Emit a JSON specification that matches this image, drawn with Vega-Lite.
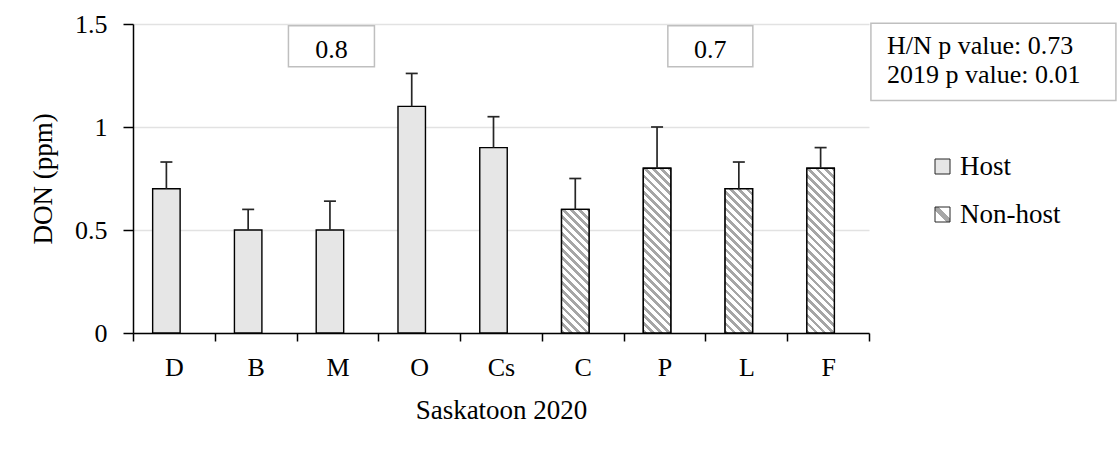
{
  "$schema": "https://vega.github.io/schema/vega-lite/v6.json",
  "width": 736,
  "height": 309,
  "autosize": {"type": "none"},
  "padding": {"left": 133, "top": 24, "right": 248, "bottom": 117},
  "background": "white",
  "params": [
    {"name": "legendHatch", "value": {"gradient": "linear", "x1": 0, "y1": 1, "x2": 1, "y2": 0, "stops": [{"offset": 0, "color": "#ffffff"}, {"offset": 0.38, "color": "#ffffff"}, {"offset": 0.38, "color": "#a6a6a6"}, {"offset": 0.62, "color": "#a6a6a6"}, {"offset": 0.62, "color": "#ffffff"}, {"offset": 1, "color": "#ffffff"}]}},
    {"name": "hatchStops", "value": [
      {"offset": 0, "color": "#a6a6a6"}, {"offset": 0.018, "color": "#a6a6a6"}, {"offset": 0.018, "color": "#ffffff"}, {"offset": 0.04, "color": "#ffffff"},
      {"offset": 0.04, "color": "#a6a6a6"}, {"offset": 0.058, "color": "#a6a6a6"}, {"offset": 0.058, "color": "#ffffff"}, {"offset": 0.08, "color": "#ffffff"},
      {"offset": 0.08, "color": "#a6a6a6"}, {"offset": 0.098, "color": "#a6a6a6"}, {"offset": 0.098, "color": "#ffffff"}, {"offset": 0.12, "color": "#ffffff"},
      {"offset": 0.12, "color": "#a6a6a6"}, {"offset": 0.138, "color": "#a6a6a6"}, {"offset": 0.138, "color": "#ffffff"}, {"offset": 0.16, "color": "#ffffff"},
      {"offset": 0.16, "color": "#a6a6a6"}, {"offset": 0.178, "color": "#a6a6a6"}, {"offset": 0.178, "color": "#ffffff"}, {"offset": 0.2, "color": "#ffffff"},
      {"offset": 0.2, "color": "#a6a6a6"}, {"offset": 0.218, "color": "#a6a6a6"}, {"offset": 0.218, "color": "#ffffff"}, {"offset": 0.24, "color": "#ffffff"},
      {"offset": 0.24, "color": "#a6a6a6"}, {"offset": 0.258, "color": "#a6a6a6"}, {"offset": 0.258, "color": "#ffffff"}, {"offset": 0.28, "color": "#ffffff"},
      {"offset": 0.28, "color": "#a6a6a6"}, {"offset": 0.298, "color": "#a6a6a6"}, {"offset": 0.298, "color": "#ffffff"}, {"offset": 0.32, "color": "#ffffff"},
      {"offset": 0.32, "color": "#a6a6a6"}, {"offset": 0.338, "color": "#a6a6a6"}, {"offset": 0.338, "color": "#ffffff"}, {"offset": 0.36, "color": "#ffffff"},
      {"offset": 0.36, "color": "#a6a6a6"}, {"offset": 0.378, "color": "#a6a6a6"}, {"offset": 0.378, "color": "#ffffff"}, {"offset": 0.4, "color": "#ffffff"},
      {"offset": 0.4, "color": "#a6a6a6"}, {"offset": 0.418, "color": "#a6a6a6"}, {"offset": 0.418, "color": "#ffffff"}, {"offset": 0.44, "color": "#ffffff"},
      {"offset": 0.44, "color": "#a6a6a6"}, {"offset": 0.458, "color": "#a6a6a6"}, {"offset": 0.458, "color": "#ffffff"}, {"offset": 0.48, "color": "#ffffff"},
      {"offset": 0.48, "color": "#a6a6a6"}, {"offset": 0.498, "color": "#a6a6a6"}, {"offset": 0.498, "color": "#ffffff"}, {"offset": 0.52, "color": "#ffffff"},
      {"offset": 0.52, "color": "#a6a6a6"}, {"offset": 0.538, "color": "#a6a6a6"}, {"offset": 0.538, "color": "#ffffff"}, {"offset": 0.56, "color": "#ffffff"},
      {"offset": 0.56, "color": "#a6a6a6"}, {"offset": 0.578, "color": "#a6a6a6"}, {"offset": 0.578, "color": "#ffffff"}, {"offset": 0.6, "color": "#ffffff"},
      {"offset": 0.6, "color": "#a6a6a6"}, {"offset": 0.618, "color": "#a6a6a6"}, {"offset": 0.618, "color": "#ffffff"}, {"offset": 0.64, "color": "#ffffff"},
      {"offset": 0.64, "color": "#a6a6a6"}, {"offset": 0.658, "color": "#a6a6a6"}, {"offset": 0.658, "color": "#ffffff"}, {"offset": 0.68, "color": "#ffffff"},
      {"offset": 0.68, "color": "#a6a6a6"}, {"offset": 0.698, "color": "#a6a6a6"}, {"offset": 0.698, "color": "#ffffff"}, {"offset": 0.72, "color": "#ffffff"},
      {"offset": 0.72, "color": "#a6a6a6"}, {"offset": 0.738, "color": "#a6a6a6"}, {"offset": 0.738, "color": "#ffffff"}, {"offset": 0.76, "color": "#ffffff"},
      {"offset": 0.76, "color": "#a6a6a6"}, {"offset": 0.778, "color": "#a6a6a6"}, {"offset": 0.778, "color": "#ffffff"}, {"offset": 0.8, "color": "#ffffff"},
      {"offset": 0.8, "color": "#a6a6a6"}, {"offset": 0.818, "color": "#a6a6a6"}, {"offset": 0.818, "color": "#ffffff"}, {"offset": 0.84, "color": "#ffffff"},
      {"offset": 0.84, "color": "#a6a6a6"}, {"offset": 0.858, "color": "#a6a6a6"}, {"offset": 0.858, "color": "#ffffff"}, {"offset": 0.88, "color": "#ffffff"},
      {"offset": 0.88, "color": "#a6a6a6"}, {"offset": 0.898, "color": "#a6a6a6"}, {"offset": 0.898, "color": "#ffffff"}, {"offset": 0.92, "color": "#ffffff"},
      {"offset": 0.92, "color": "#a6a6a6"}, {"offset": 0.938, "color": "#a6a6a6"}, {"offset": 0.938, "color": "#ffffff"}, {"offset": 0.96, "color": "#ffffff"},
      {"offset": 0.96, "color": "#a6a6a6"}, {"offset": 0.978, "color": "#a6a6a6"}, {"offset": 0.978, "color": "#ffffff"}, {"offset": 1, "color": "#ffffff"}
    ]}
  ],
  "datasets": {
    "bars": [
      {"site": "D", "group": "Host", "DON": 0.7, "upper": 0.83},
      {"site": "B", "group": "Host", "DON": 0.5, "upper": 0.6},
      {"site": "M", "group": "Host", "DON": 0.5, "upper": 0.64},
      {"site": "O", "group": "Host", "DON": 1.1, "upper": 1.26},
      {"site": "Cs", "group": "Host", "DON": 0.9, "upper": 1.05},
      {"site": "C", "group": "Non-host", "DON": 0.6, "upper": 0.75},
      {"site": "P", "group": "Non-host", "DON": 0.8, "upper": 1.0},
      {"site": "L", "group": "Non-host", "DON": 0.7, "upper": 0.83},
      {"site": "F", "group": "Non-host", "DON": 0.8, "upper": 0.9}
    ],
    "notes": [
      {"id": "host", "text": "0.8"},
      {"id": "nonhost", "text": "0.7"},
      {"id": "pvalues", "text": "H/N p value: 0.73\n2019 p value: 0.01"}
    ]
  },
  "config": {
    "font": "Liberation Serif",
    "view": {"stroke": null},
    "axis": {
      "labelFont": "Liberation Serif",
      "labelColor": "#000000",
      "labelFontSize": 26,
      "titleFont": "Liberation Serif",
      "titleColor": "#000000",
      "titleFontSize": 27,
      "titleFontWeight": "normal",
      "domainColor": "#000000",
      "domainWidth": 1.5,
      "tickColor": "#000000",
      "tickWidth": 1.5
    },
    "axisX": {"tickBand": "extent", "tickSize": 8, "labelPadding": 13, "labelAngle": 0, "grid": false, "titlePadding": 17},
    "axisY": {"tickSize": 10, "labelPadding": 16, "grid": true, "gridColor": "#e2e2e2", "gridWidth": 1.5, "titlePadding": 17},
    "legend": {
      "orient": "none",
      "legendX": 796,
      "legendY": 129,
      "padding": 0,
      "symbolType": "square",
      "symbolSize": 225,
      "symbolStrokeColor": "#262626",
      "symbolStrokeWidth": 1,
      "labelFont": "Liberation Serif",
      "labelFontSize": 27,
      "labelColor": "#000000",
      "labelOffset": 4,
      "rowPadding": 20,
      "title": null
    }
  },
  "layer": [
    {
      "data": {"name": "bars"},
      "mark": {"type": "bar", "width": {"band": 0.336}, "xOffset": -7.5, "stroke": "#000000", "strokeWidth": 1.4},
      "encoding": {
        "x": {"field": "site", "type": "nominal", "title": "Saskatoon 2020", "scale": {"domain": ["D", "B", "M", "O", "Cs", "C", "P", "L", "F"], "paddingInner": 0, "paddingOuter": 0}},
        "y": {"field": "DON", "type": "quantitative", "title": "DON (ppm)", "scale": {"domain": [0, 1.5], "nice": false}, "axis": {"values": [0, 0.5, 1, 1.5], "format": "~g"}},
        "fill": {
          "field": "group", "type": "nominal", "title": null,
          "scale": {"domain": ["Host", "Non-host"], "range": ["#e6e6e6", {"expr": "legendHatch"}]}
        }
      }
    },
    {
      "data": {"name": "bars"},
      "transform": [{"filter": "datum.group === 'Non-host'"}],
      "mark": {
        "type": "bar", "width": {"band": 0.336}, "xOffset": -7.5, "stroke": "#000000", "strokeWidth": 1.4,
        "fill": {"expr": "{gradient: 'linear', x1: 0, y1: 1, x2: 205.06*27.48/(755.2+pow(datum.DON*206,2)), y2: 1-205.06*datum.DON*206/(755.2+pow(datum.DON*206,2)), stops: hatchStops}"}
      },
      "encoding": {
        "x": {"field": "site", "type": "nominal", "title": "Saskatoon 2020", "scale": {"domain": ["D", "B", "M", "O", "Cs", "C", "P", "L", "F"], "paddingInner": 0, "paddingOuter": 0}},
        "y": {"field": "DON", "type": "quantitative", "title": "DON (ppm)", "scale": {"domain": [0, 1.5], "nice": false}}
      }
    },
    {
      "data": {"name": "bars"},
      "mark": {"type": "rule", "stroke": "#262626", "strokeWidth": 1.7, "xOffset": -7.5},
      "encoding": {
        "x": {"field": "site", "type": "nominal", "title": "Saskatoon 2020", "scale": {"domain": ["D", "B", "M", "O", "Cs", "C", "P", "L", "F"], "paddingInner": 0, "paddingOuter": 0}},
        "y": {"field": "DON", "type": "quantitative", "title": "DON (ppm)", "scale": {"domain": [0, 1.5], "nice": false}},
        "y2": {"field": "upper"}
      }
    },
    {
      "data": {"name": "bars"},
      "mark": {"type": "tick", "orient": "horizontal", "size": 12, "thickness": 1.7, "color": "#262626", "opacity": 1, "xOffset": -7.5},
      "encoding": {
        "x": {"field": "site", "type": "nominal", "title": "Saskatoon 2020", "scale": {"domain": ["D", "B", "M", "O", "Cs", "C", "P", "L", "F"], "paddingInner": 0, "paddingOuter": 0}},
        "y": {"field": "upper", "type": "quantitative", "title": "DON (ppm)", "scale": {"domain": [0, 1.5], "nice": false}}
      }
    },
    {
      "data": {"name": "notes"},
      "transform": [{"filter": "datum.id === 'host'"}],
      "layer": [
        {
          "mark": {"type": "bar", "width": 86, "xOffset": -6, "fill": "#ffffff", "stroke": "#bfbfbf", "strokeWidth": 1.5},
          "encoding": {
            "x": {"datum": "M", "type": "nominal", "title": "Saskatoon 2020"},
            "y": {"datum": 1.492, "type": "quantitative", "title": "DON (ppm)"},
            "y2": {"datum": 1.293}
          }
        },
        {
          "mark": {"type": "text", "xOffset": -6, "font": "Liberation Serif", "fontSize": 26, "align": "center", "baseline": "alphabetic", "color": "#000000"},
          "encoding": {
            "x": {"datum": "M", "type": "nominal", "title": "Saskatoon 2020"},
            "y": {"datum": 1.336, "type": "quantitative", "title": "DON (ppm)"},
            "text": {"field": "text"}
          }
        }
      ]
    },
    {
      "data": {"name": "notes"},
      "transform": [{"filter": "datum.id === 'nonhost'"}],
      "layer": [
        {
          "mark": {"type": "bar", "width": 85, "xOffset": -36, "fill": "#ffffff", "stroke": "#bfbfbf", "strokeWidth": 1.5},
          "encoding": {
            "x": {"datum": "L", "type": "nominal", "title": "Saskatoon 2020"},
            "y": {"datum": 1.492, "type": "quantitative", "title": "DON (ppm)"},
            "y2": {"datum": 1.293}
          }
        },
        {
          "mark": {"type": "text", "xOffset": -36, "font": "Liberation Serif", "fontSize": 26, "align": "center", "baseline": "alphabetic", "color": "#000000"},
          "encoding": {
            "x": {"datum": "L", "type": "nominal", "title": "Saskatoon 2020"},
            "y": {"datum": 1.336, "type": "quantitative", "title": "DON (ppm)"},
            "text": {"field": "text"}
          }
        }
      ]
    },
    {
      "data": {"name": "notes"},
      "transform": [{"filter": "datum.id === 'pvalues'"}],
      "layer": [
        {
          "mark": {"type": "bar", "width": 245, "xOffset": 165.3, "fill": "#ffffff", "stroke": "#bfbfbf", "strokeWidth": 1.5},
          "encoding": {
            "x": {"datum": "F", "type": "nominal", "title": "Saskatoon 2020"},
            "y": {"datum": 1.504, "type": "quantitative", "title": "DON (ppm)"},
            "y2": {"datum": 1.129}
          }
        },
        {
          "mark": {"type": "text", "xOffset": 58.8, "font": "Liberation Serif", "fontSize": 26, "align": "left", "baseline": "alphabetic", "lineBreak": "\n", "lineHeight": 28.5, "color": "#000000"},
          "encoding": {
            "x": {"datum": "F", "type": "nominal", "title": "Saskatoon 2020"},
            "y": {"datum": 1.352, "type": "quantitative", "title": "DON (ppm)"},
            "text": {"field": "text"}
          }
        }
      ]
    }
  ]
}
